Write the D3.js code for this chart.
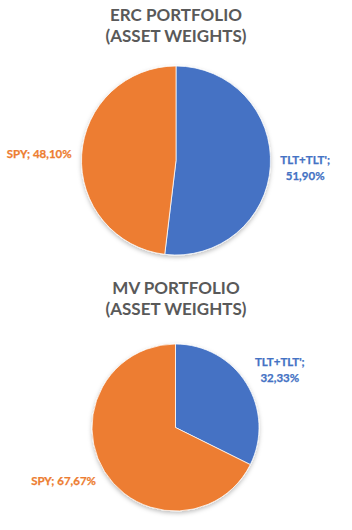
<!DOCTYPE html>
<html>
<head>
<meta charset="utf-8">
<script src="https://cdn.jsdelivr.net/npm/d3@7"></script>
<style>
  body { margin: 0; background: #fff; }
  svg { display: block; }
</style>
</head>
<body>
<div id="container"></div>
<script>
/* DATA */
const assets = ["TLT+TLT'", "SPY"];
const ercWeights = [51.90, 48.10];
const mvWeights = [32.33, 67.67];
const titles = [["ERC PORTFOLIO", "(ASSET WEIGHTS)"], ["MV PORTFOLIO", "(ASSET WEIGHTS)"]];
const colors = ["#4472C4", "#ED7D31"];

const width = 352, height = 530;

const svg = d3.select("#container").append("svg")
  .attr("width", width)
  .attr("height", height);

// soft shadow like the excel default
svg.append("defs").append("filter")
  .attr("id", "shadow")
  .attr("x", "-20%").attr("y", "-20%").attr("width", "140%").attr("height", "140%")
  .append("feDropShadow")
  .attr("dx", 0).attr("dy", 2).attr("stdDeviation", 2)
  .attr("flood-color", "#000").attr("flood-opacity", 0.25);

const color = d3.scaleOrdinal().domain(assets).range(colors);
const fmt = v => d3.format(".2f")(v).replace(".", ",") + "%";

const charts = [
  {weights: ercWeights, title: titles[0], titleY: 21, cx: 176, cy: 160.5, r: 94.5},
  {weights: mvWeights, title: titles[1], titleY: 294, cx: 175.5, cy: 427.5, r: 83.5}
];

const pie = d3.pie().sort(null).value(d => d.value);

charts.forEach(c => {
  const data = assets.map((a, i) => ({name: a, value: c.weights[i]}));

  // title
  const t = svg.append("text")
    .attr("text-anchor", "middle")
    .attr("font-family", "Lato")
    .attr("font-weight", "bold")
    .attr("font-size", 17)
    .attr("fill", "#595959");
  c.title.forEach((line, i) => {
    t.append("tspan").attr("x", width / 2).attr("y", c.titleY + i * 21).text(line);
  });

  const g = svg.append("g").attr("transform", `translate(${c.cx},${c.cy})`);
  const arc = d3.arc().innerRadius(0).outerRadius(c.r);
  const labelArc = d3.arc().innerRadius(c.r + 10).outerRadius(c.r + 10);

  g.append("g").attr("filter", "url(#shadow)")
    .selectAll("path")
    .data(pie(data))
    .join("path")
    .attr("d", arc)
    .attr("fill", d => color(d.data.name))
    .attr("stroke", "#fff")
    .attr("stroke-width", 0.75);

  // labels outside, box edge touching the point at r+10
  g.selectAll(".lbl")
    .data(pie(data))
    .join("text")
    .attr("class", "lbl")
    .attr("font-family", "Lato")
    .attr("font-weight", "bold")
    .attr("font-size", 11.5)
    .attr("fill", d => color(d.data.name))
    .attr("stroke", d => color(d.data.name))
    .attr("stroke-width", 0.25)
    .attr("text-anchor", "middle")
    .each(function(d) {
      const el = d3.select(this);
      const twoLines = d.data.name.length > 3;
      const lines = twoLines ? [d.data.name + ";", fmt(d.data.value)] : [d.data.name + "; " + fmt(d.data.value)];
      lines.forEach((l, i) => el.append("tspan").attr("x", 0).attr("dy", i === 0 ? 0 : 16).text(l));
      const bb = this.getBBox();
      const [px, py] = labelArc.centroid(d);
      const a = (d.startAngle + d.endAngle) / 2;
      const w = bb.width, h = lines.length * 16;
      const bx = px + Math.sign(Math.sin(a)) * w / 2;
      const by = py - Math.cos(a) * h / 2;
      // first baseline sits about 4px under the top line's centre
      const firstBase = by - h / 2 + 12;
      el.attr("transform", `translate(${bx},${firstBase})`);
    });
});
</script>
</body>
</html>
